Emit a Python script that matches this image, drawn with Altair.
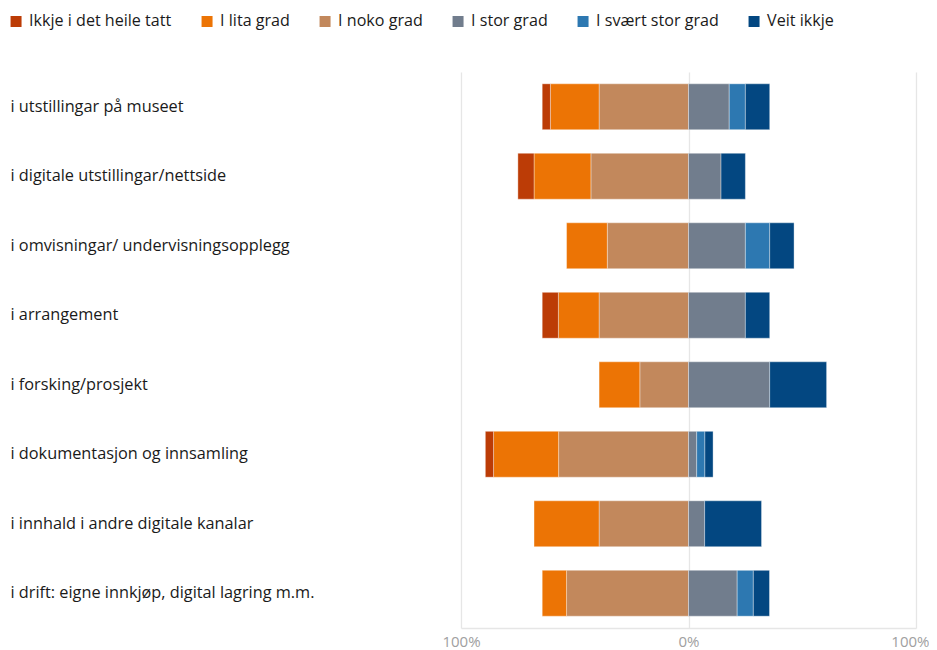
import altair as alt
import pandas as pd

categories = [
    "i utstillingar på museet",
    "i digitale utstillingar/nettside",
    "i omvisningar/ undervisningsopplegg",
    "i arrangement",
    "i forsking/prosjekt",
    "i dokumentasjon og innsamling",
    "i innhald i andre digitale kanalar",
    "i drift: eigne innkjøp, digital lagring m.m.",
]
series = ["Ikkje i det heile tatt", "I lita grad", "I noko grad",
          "I stor grad", "I svært stor grad", "Veit ikkje"]
colors = ["#BC3C06", "#EC7405", "#C2885C", "#717D8D", "#2D78B1", "#034781"]

# percentages per category, in series order
ikkje = [3.6, 7.1, 0.0, 7.1, 0.0, 3.6, 0.0, 0.0]
lita = [21.4, 25.0, 17.9, 17.9, 17.9, 28.6, 28.6, 10.7]
noko = [39.3, 42.9, 35.7, 39.3, 21.4, 57.1, 39.3, 53.6]
stor = [17.9, 14.3, 25.0, 25.0, 35.7, 3.6, 7.1, 21.4]
svaert = [7.1, 0.0, 10.7, 0.0, 0.0, 3.6, 0.0, 7.1]
veit = [10.7, 10.7, 10.7, 10.7, 25.0, 3.6, 25.0, 7.1]

neg_side = [("I noko grad", noko), ("I lita grad", lita), ("Ikkje i det heile tatt", ikkje)]
pos_side = [("I stor grad", stor), ("I svært stor grad", svaert), ("Veit ikkje", veit)]

rows = []
for i, cat in enumerate(categories):
    start = 0.0
    for name, vals in neg_side:
        v = vals[i]
        if v > 0:
            rows.append({"cat": cat, "serie": name, "x": -start, "x2": -(start + v), "val": v})
        start += v
    start = 0.0
    for name, vals in pos_side:
        v = vals[i]
        if v > 0:
            rows.append({"cat": cat, "serie": name, "x": start, "x2": start + v, "val": v})
        start += v
df = pd.DataFrame(rows)

FONT = "Segoe UI, Open Sans, sans-serif"

bars = alt.Chart(df).mark_bar(stroke="white", strokeWidth=0.6, strokeOpacity=0.6).encode(
    y=alt.Y("cat:N", sort=categories, title=None,
            scale=alt.Scale(paddingInner=0.34, paddingOuter=0.17),
            axis=alt.Axis(domain=False, ticks=False, tickSize=0, grid=False,
                          labelAlign="left", labelPadding=451, labelLimit=440,
                          labelFont=FONT, labelFontSize=16.3, labelColor="#1a1a1a")),
    x=alt.X("x:Q", title=None,
            scale=alt.Scale(domain=[-100, 100], nice=False),
            axis=alt.Axis(values=[-100, 0, 100], labelExpr="abs(datum.value) + '%'",
                          grid=True, gridColor="#E6E6E6", gridWidth=1.3,
                          domain=True, domainColor="#E6E6E6", domainWidth=1.3,
                          ticks=False, tickSize=0, labelPadding=6,
                          labelAlign={"condition": {"test": "datum.value == 100", "value": "right"},
                                      "value": "center"},
                          labelOffset={"condition": {"test": "datum.value == 100", "value": 13},
                                       "value": 0},
                          labelFont=FONT, labelFontSize=15, labelColor="#A0A0A0",
                          labelFlush=False)),
    x2="x2:Q",
    color=alt.Color("serie:N", title=None,
                    scale=alt.Scale(domain=series, range=colors),
                    legend=alt.Legend(orient="none", legendX=-453, legendY=-59,
                                      direction="horizontal", columns=6,
                                      columnPadding=27, symbolType="square",
                                      symbolSize=121, symbolStrokeWidth=0,
                                      labelOffset=5, labelFont=FONT,
                                      labelFontSize=16.1, labelColor="#1a1a1a",
                                      labelLimit=300)),
)

chart = bars.properties(
    width=455, height=556,
    autosize="none",
    padding={"left": 453, "top": 64, "right": 13, "bottom": 22},
).configure_view(stroke=None)

chart.save("out.html", embed_options={"renderer": "svg", "actions": False})
